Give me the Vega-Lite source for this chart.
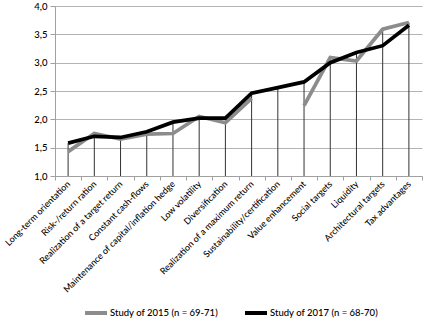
{
  "$schema": "https://vega.github.io/schema/vega-lite/v6.json",
  "width": 367,
  "height": 170,
  "autosize": {"type": "none"},
  "padding": {"left": 55, "top": 6, "right": 6, "bottom": 148},
  "background": "white",
  "config": {
    "font": "Lato",
    "view": {"stroke": null},
    "axis": {"labelFont": "Lato", "labelFontSize": 9, "labelColor": "#000000", "labelFontWeight": 500}
  },
  "data": {
    "values": [
      {"category": "Long-term orientation", "series": "Study of 2015 (n = 69-71)", "value": 1.43},
      {"category": "Risk-/return ration", "series": "Study of 2015 (n = 69-71)", "value": 1.75},
      {"category": "Realization of a target return", "series": "Study of 2015 (n = 69-71)", "value": 1.65},
      {"category": "Constant cash-flows", "series": "Study of 2015 (n = 69-71)", "value": 1.74},
      {"category": "Maintenance of capital/inflation hedge", "series": "Study of 2015 (n = 69-71)", "value": 1.75},
      {"category": "Low volatility", "series": "Study of 2015 (n = 69-71)", "value": 2.05},
      {"category": "Diversification", "series": "Study of 2015 (n = 69-71)", "value": 1.94},
      {"category": "Realization of a maximum return", "series": "Study of 2015 (n = 69-71)", "value": 2.37},
      {"category": "Sustainability/certification", "series": "Study of 2015 (n = 69-71)", "value": null},
      {"category": "Value enhancement", "series": "Study of 2015 (n = 69-71)", "value": 2.24},
      {"category": "Social targets", "series": "Study of 2015 (n = 69-71)", "value": 3.09},
      {"category": "Liquidity", "series": "Study of 2015 (n = 69-71)", "value": 3.03},
      {"category": "Architectural targets", "series": "Study of 2015 (n = 69-71)", "value": 3.59},
      {"category": "Tax advantages", "series": "Study of 2015 (n = 69-71)", "value": 3.71},
      {"category": "Long-term orientation", "series": "Study of 2017 (n = 68-70)", "value": 1.58},
      {"category": "Risk-/return ration", "series": "Study of 2017 (n = 68-70)", "value": 1.70},
      {"category": "Realization of a target return", "series": "Study of 2017 (n = 68-70)", "value": 1.68},
      {"category": "Constant cash-flows", "series": "Study of 2017 (n = 68-70)", "value": 1.78},
      {"category": "Maintenance of capital/inflation hedge", "series": "Study of 2017 (n = 68-70)", "value": 1.95},
      {"category": "Low volatility", "series": "Study of 2017 (n = 68-70)", "value": 2.02},
      {"category": "Diversification", "series": "Study of 2017 (n = 68-70)", "value": 2.02},
      {"category": "Realization of a maximum return", "series": "Study of 2017 (n = 68-70)", "value": 2.46},
      {"category": "Sustainability/certification", "series": "Study of 2017 (n = 68-70)", "value": 2.56},
      {"category": "Value enhancement", "series": "Study of 2017 (n = 68-70)", "value": 2.66},
      {"category": "Social targets", "series": "Study of 2017 (n = 68-70)", "value": 3.0},
      {"category": "Liquidity", "series": "Study of 2017 (n = 68-70)", "value": 3.18},
      {"category": "Architectural targets", "series": "Study of 2017 (n = 68-70)", "value": 3.30},
      {"category": "Tax advantages", "series": "Study of 2017 (n = 68-70)", "value": 3.66}
    ]
  },
  "encoding": {
    "x": {
      "field": "category",
      "type": "nominal",
      "sort": null,
      "bandPosition": 0.5,
      "scale": {"type": "band", "paddingInner": 0, "paddingOuter": 0},
      "axis": {
        "title": null,
        "labelAngle": -45,
        "labelAlign": "right",
        "labelBaseline": "middle",
        "labelPadding": 2,
        "tickBand": "extent",
        "tickSize": 4,
        "tickColor": "#a0a0a0",
        "domainColor": "#a0a0a0",
        "grid": false,
        "labelLimit": 300
      }
    }
  },
  "layer": [
    {
      "mark": {"type": "rule", "color": "#333333", "strokeWidth": 1},
      "encoding": {
        "y": {"aggregate": "max", "field": "value", "type": "quantitative",
              "scale": {"domain": [1, 4], "nice": false, "zero": false},
              "axis": {
                "title": null,
                "values": [1, 1.5, 2, 2.5, 3, 3.5, 4],
                "labelExpr": "replace(format(datum.value, '.1f'), '.', ',')",
                "labelOverlap": false,
                "labelFontSize": 9.5,
                "grid": true,
                "gridColor": "#b4b4b4",
                "gridWidth": 1,
                "tickColor": "#a0a0a0",
                "tickSize": 5,
                "domainColor": "#a0a0a0",
                "labelPadding": 3
              }},
        "y2": {"datum": 1}
      }
    },
    {
      "mark": {"type": "line", "strokeWidth": 3.7, "invalid": "break-paths-show-domains"},
      "encoding": {
        "y": {
          "field": "value",
          "type": "quantitative",
          "scale": {"domain": [1, 4], "nice": false, "zero": false},
          "axis": {
            "title": null,
            "values": [1, 1.5, 2, 2.5, 3, 3.5, 4],
            "labelExpr": "replace(format(datum.value, '.1f'), '.', ',')",
            "labelOverlap": false,
            "labelFontSize": 9.5,
            "grid": true,
            "gridColor": "#b4b4b4",
            "gridWidth": 1,
            "tickColor": "#a0a0a0",
            "tickSize": 5,
            "domainColor": "#a0a0a0",
            "labelPadding": 3
          }
        },
        "color": {
          "field": "series",
          "type": "nominal",
          "scale": {"domain": ["Study of 2015 (n = 69-71)", "Study of 2017 (n = 68-70)"], "range": ["#8c8c8c", "#000000"]},
          "legend": {
            "title": null,
            "orient": "none",
            "direction": "horizontal",
            "legendX": 28,
            "legendY": 294,
            "symbolType": "stroke",
            "symbolSize": 484,
            "symbolStrokeWidth": 4,
            "labelFont": "Lato",
            "labelFontSize": 9.5,
            "labelFontWeight": 500,
            "labelColor": "#000000",
            "labelOffset": 1,
            "columnPadding": 18
          }
        }
      }
    }
  ]
}
